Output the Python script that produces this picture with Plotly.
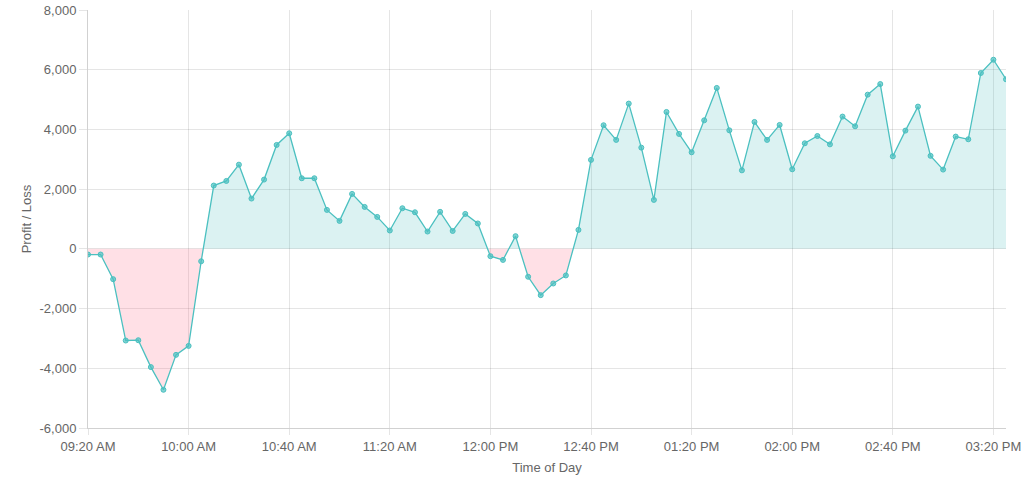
import plotly.graph_objects as go
import pandas as pd

start_time = "2024-01-01 09:20"
interval_minutes = 5
profit_loss = [
    -190, -190, -1015, -3070, -3060, -3960, -4720, -3550, -3250, -415,
    2120, 2275, 2820, 1685, 2320, 3480, 3870, 2365, 2365, 1305,
    937, 1840, 1405, 1070, 615, 1360, 1225, 580, 1240, 600,
    1170, 850, -245, -370, 425, -935, -1550, -1160, -890, 635,
    2980, 4140, 3650, 4865, 3390, 1640, 4585, 3850, 3235, 4305,
    5390, 3970, 2630, 4250, 3650, 4150, 2665, 3535, 3780, 3500,
    4430, 4105, 5165, 5520, 3100, 3960, 4765, 3115, 2655, 3760,
    3670, 5890, 6335, 5680,
]
y_tick_values = [-6000, -4000, -2000, 0, 2000, 4000, 6000, 8000]
y_tick_labels = ["-6,000", "-4,000", "-2,000", "0", "2,000", "4,000", "6,000", "8,000"]
times = pd.date_range(start_time, periods=len(profit_loss), freq=f"{interval_minutes}min")

# Build fill outlines (positive / negative) including zero crossings
tnum = [t.value for t in times]
pos_x, pos_y, neg_x, neg_y = [], [], [], []
for i, (t, v) in enumerate(zip(tnum, profit_loss)):
    if i > 0:
        v0 = profit_loss[i - 1]
        if (v0 < 0 < v) or (v0 > 0 > v):
            t0 = tnum[i - 1]
            tc = t0 + (t - t0) * (0 - v0) / (v - v0)
            pos_x.append(tc); pos_y.append(0)
            neg_x.append(tc); neg_y.append(0)
    pos_x.append(t); pos_y.append(max(v, 0))
    neg_x.append(t); neg_y.append(min(v, 0))
pos_x = pd.to_datetime(pos_x)
neg_x = pd.to_datetime(neg_x)

fig = go.Figure()
fig.add_trace(go.Scatter(x=pos_x, y=pos_y, mode="lines", line=dict(width=0),
                         fill="tozeroy", fillcolor="rgba(75,192,192,0.2)",
                         hoverinfo="skip", showlegend=False))
fig.add_trace(go.Scatter(x=neg_x, y=neg_y, mode="lines", line=dict(width=0),
                         fill="tozeroy", fillcolor="rgba(255,99,132,0.2)",
                         hoverinfo="skip", showlegend=False))
fig.add_trace(go.Scatter(x=times, y=profit_loss, mode="lines+markers",
                         line=dict(color="rgb(75,192,192)", width=1.3),
                         marker=dict(size=5, color="rgba(75,192,192,0.7)",
                                     line=dict(color="rgb(75,192,192)", width=1)),
                         showlegend=False))

font_family = "Liberation Sans, Arial, sans-serif"
fig.update_layout(
    width=1024, height=483,
    margin=dict(l=88, r=18, t=10, b=55),
    paper_bgcolor="white", plot_bgcolor="white",
    font=dict(family=font_family, size=13, color="#666"),
    xaxis=dict(
        range=[times[0], times[-1]],
        tickformat="%I:%M %p",
        tickmode="linear", tick0=times[0], dtick=40 * 60 * 1000,
        showgrid=True, gridcolor="rgba(0,0,0,0.1)", gridwidth=1,
        ticks="outside", ticklen=6, tickcolor="rgba(0,0,0,0.1)",
        showline=True, linecolor="rgba(0,0,0,0.18)", linewidth=1,
        zeroline=False, automargin=False, ticklabeloverflow="allow",
        title=dict(text="Time of Day", standoff=10, font=dict(size=13, color="#666")),
    ),
    yaxis=dict(
        range=[-6000, 8000],
        tickmode="array", tickvals=y_tick_values, ticktext=y_tick_labels,
        showgrid=True, gridcolor="rgba(0,0,0,0.1)", gridwidth=1,
        ticks="outside", ticklen=8, tickcolor="rgba(0,0,0,0.1)",
        showline=True, linecolor="rgba(0,0,0,0.18)", linewidth=1,
        zeroline=False, automargin=False, ticklabeloverflow="allow",
        title=dict(text="Profit / Loss", standoff=4, font=dict(size=13, color="#666")),
    ),
)
fig.write_html("out.html", config={"displayModeBar": False},
               post_script="document.body.style.margin='0';document.body.style.overflow='hidden';")
